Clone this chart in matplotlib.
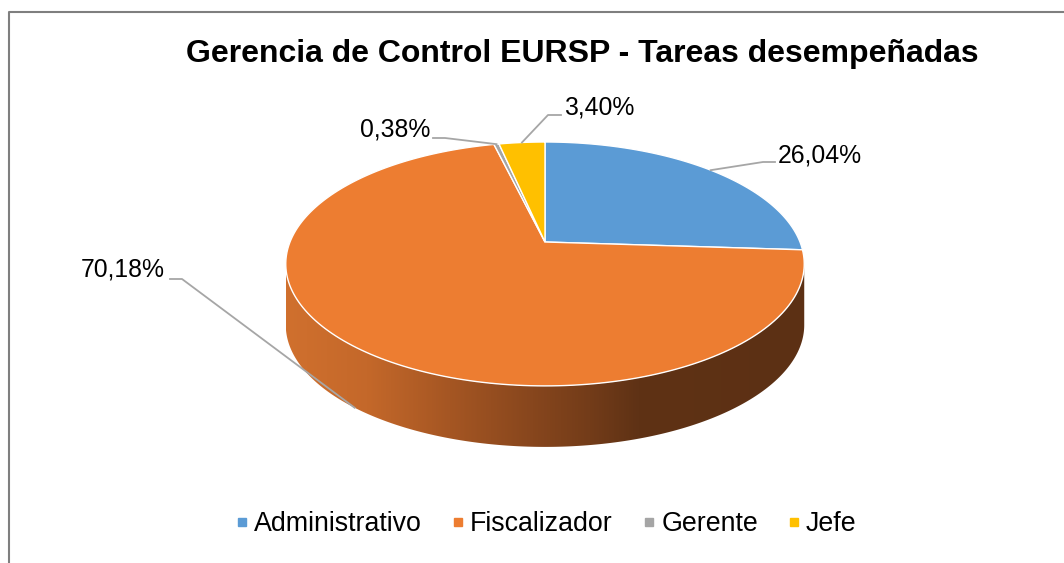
import matplotlib
matplotlib.use("Agg")
import matplotlib.pyplot as plt
import numpy as np
from matplotlib.patches import Polygon
from matplotlib.colors import LinearSegmentedColormap
from matplotlib.lines import Line2D

plt.rcParams['font.family'] = ['Liberation Sans', 'DejaVu Sans']

# DATA
categories = ['Administrativo', 'Fiscalizador', 'Gerente', 'Jefe']
values = [26.04, 70.18, 0.38, 3.40]
pct_labels = ['26,04%', '70,18%', '0,38%', '3,40%']
colors = ['#5B9BD5', '#ED7D31', '#A5A5A5', '#FFC000']
title = 'Gerencia de Control EURSP - Tareas desempeñadas'

# pie geometry in pixels (simple perspective for the 3D look)
cx, cy = 545, 242
rx, ry = 255, 118
k = -0.18
depth = 61


def proj(theta, z=0.0):
	# theta in degrees, clockwise from 12 o'clock
	t = np.radians(theta)
	u = np.sin(t)
	v = -np.cos(t)
	w = 1 + k * v
	return cx + rx * u / w, cy + ry * v / w + z


fig = plt.figure(figsize=(10.64, 5.63), dpi=100)
ax = fig.add_axes([0, 0, 1, 1])

fracs = np.array(values) / sum(values)
bounds = np.concatenate([[0], np.cumsum(fracs)]) * 360

# side of the pie (only the front half is seen)
th = np.linspace(0, 360, 1441)
xs, ys = proj(th)
i_r = np.argmax(xs)
i_l = np.argmin(xs)
seg = th[i_r:i_l + 1]
tx, ty = proj(seg)
bx, by = proj(seg[::-1], z=depth)
side = Polygon(np.column_stack([np.concatenate([tx, bx]), np.concatenate([ty, by])]),
	closed=True, facecolor='none', edgecolor='none')
ax.add_patch(side)

stops = [(0.0, (208, 112, 46)), (0.156, (196, 104, 42)), (0.315, (165, 86, 35)),
	(0.475, (135, 70, 29)), (0.585, (115, 60, 25)), (0.68, (95, 50, 21)), (1.0, (92, 48, 20))]
cmap = LinearSegmentedColormap.from_list('side', [(p, tuple(c / 255 for c in col)) for p, col in stops])
x0, x1 = xs.min(), xs.max()
im = ax.imshow(np.linspace(0, 1, 256)[None, :], cmap=cmap, aspect='auto',
	extent=(x0, x1, by.max() + 2, ty.min() - 2), zorder=1)
im.set_clip_path(side)

# top face
for i in range(len(values)):
	arc = np.linspace(bounds[i], bounds[i + 1], 200)
	px, py = proj(arc)
	pts = np.column_stack([np.concatenate([[cx], px]), np.concatenate([[cy], py])])
	ax.add_patch(Polygon(pts, closed=True, facecolor=colors[i], edgecolor='white', linewidth=1.0, zorder=2))

# data labels with leader lines
mids = (bounds[:-1] + bounds[1:]) / 2
anchor_z = [0, depth, 0, 0]
elbows = [(763, 162), (182, 279), (445, 138), (548, 115)]
ends = [(775, 162), (170, 279), (433, 138), (561, 115)]
text_pos = [(778, 155, 'left'), (165, 270, 'right'), (430, 130, 'right'), (564, 108, 'left')]
for i in range(len(values)):
	axp, ayp = proj(mids[i], z=anchor_z[i])
	ax.plot([axp, elbows[i][0], ends[i][0]], [ayp, elbows[i][1], ends[i][1]],
		color='#A6A6A6', linewidth=1.3, zorder=3)
	ax.text(text_pos[i][0], text_pos[i][1], pct_labels[i], ha=text_pos[i][2], va='center',
		fontsize=17.8, color='#000000', zorder=4)

# title
ax.text(582, 54, title, ha='center', va='center', fontsize=23, fontweight='bold')

# chart border
ax.plot([9, 9, 1064], [563, 12, 12], color='#7F7F7F', linewidth=1.5)

ax.set_xlim(0, 1064)
ax.set_ylim(563, 0)
ax.axis('off')

# legend
handles = [Line2D([], [], marker='s', linestyle='none', markersize=6,
	markerfacecolor=c, markeredgecolor=c) for c in colors]
fig.legend(handles, categories, loc='center', bbox_to_anchor=(546 / 1064, 1 - 524 / 563),
	ncol=4, frameon=False, fontsize=19.3, handlelength=0.5, handletextpad=0.2, columnspacing=1.1)

plt.savefig("out.png", dpi=100)
